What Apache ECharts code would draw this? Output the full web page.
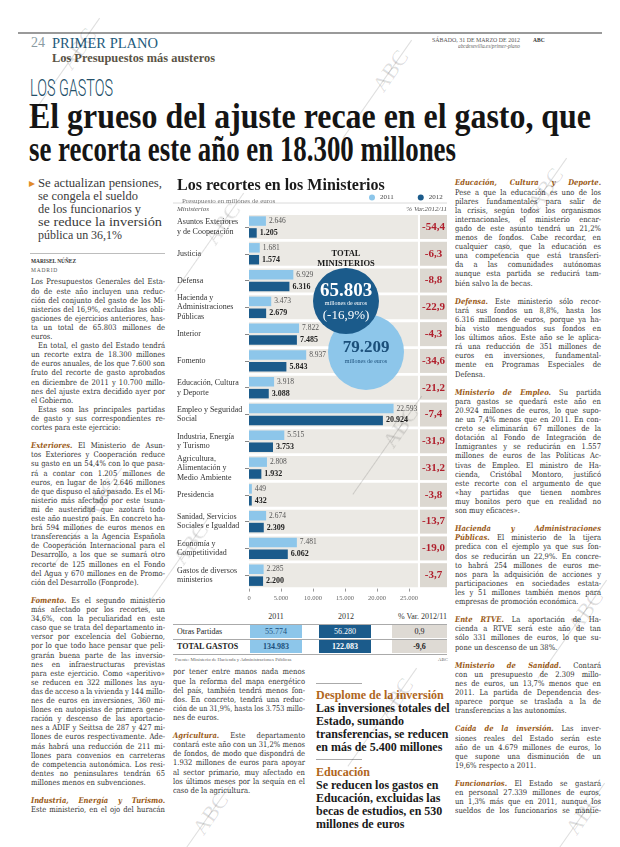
<!DOCTYPE html>
<html><head><meta charset="utf-8">
<script src="https://cdn.jsdelivr.net/npm/echarts@6/dist/echarts.min.js"></script>
<style>
html,body{margin:0;padding:0;background:#fff;}
#page{position:relative;width:620px;height:847px;overflow:hidden;background:#fff;font-family:'Liberation Serif',serif;color:#2e2e2e;}
.a{position:absolute;white-space:nowrap;}
.ln{position:absolute;white-space:nowrap;transform-origin:0 50%;font-family:'DejaVu Serif',serif;color:#333;}
.lead{font-weight:bold;font-style:italic;color:#9a5a16;}
.rule{position:absolute;height:0;}
#chart{position:absolute;left:168px;top:172px;width:282px;height:440px;}
.wm{position:absolute;color:rgba(0,0,0,0.13);font-family:'Liberation Serif',serif;font-size:22px;transform-origin:50% 50%;pointer-events:none;}
.wm span{position:absolute;left:-60px;top:12px;width:120px;border-top:1px solid rgba(0,0,0,0.13);}
</style></head><body><div id="page">
<div id="chart"></div>
</div>
<script>
// ---------------- chart data ----------------
const categories = [
  'Asuntos Exteriores\ny de Cooperación','Justicia','Defensa',
  'Hacienda y\nAdministraciones\nPúblicas','Interior','Fomento',
  'Educación, Cultura\ny Deporte','Empleo y Seguridad\nSocial',
  'Industria, Energía\ny Turismo','Agricultura,\nAlimentación y\nMedio Ambiente',
  'Presidencia','Sanidad, Servicios\nSociales e Igualdad',
  'Economía y\nCompetitividad','Gastos de diversos\nministerios'
];
const values2011 = [2646,1681,6929,3473,7822,8937,3918,22593,5515,2808,449,2674,7481,2285];
const values2012 = [1205,1574,6316,2679,7485,5843,3088,20924,3753,1932,432,2309,6062,2200];
const pctChange = [-54.4,-6.3,-8.8,-22.9,-4.3,-34.6,-21.2,-7.4,-31.9,-31.2,-3.8,-13.7,-19.0,-3.7];
const xTickValues = [0,5000,10000,15000,20000,25000];
const totalMinisterios2012 = 65803;
const totalMinisterios2011 = 79209;
const totalMinisteriosPct = -16.9;
const tableRows = ['Otras Partidas','TOTAL GASTOS'];
const table2011 = [55774,134983];
const table2012 = [56280,122083];
const tableVar = [0.9,-9.6];

function fmt(v){ return String(v).replace(/\B(?=(\d{3})+(?!\d))/g,'.'); }
function fmtPct(v){ return v.toFixed(1).replace('.',','); }

const page = document.getElementById('page');
function el(html, css, cls){
  const d = document.createElement('div');
  d.className = cls || 'a';
  d.innerHTML = html;
  Object.assign(d.style, css);
  page.appendChild(d);
  return d;
}
function fitW(d, w){
  const nat = d.getBoundingClientRect().width;
  if (nat>0){ d.style.transformOrigin='0 50%'; d.style.transform='scaleX('+(w/nat)+')'; }
}
function rule(x1,x2,y,color,wd){
  el('',{left:x1+'px',top:y+'px',width:(x2-x1)+'px',borderTop:(wd||1)+'px solid '+(color||'#bbb')},'rule');
}
// justified text columns, one entry per printed line
function col(lines, x, y0, w, lh, fs, sx){
  let y = y0;
  for (const raw of lines){
    if (raw===''){ y += lh; continue; }
    let s = raw, last=false, indent=0;
    if (s.endsWith('|')){ last=true; s=s.slice(0,-1); }
    if (s.startsWith('>')){ indent=7; s=s.slice(1); }
    const d = el(s.replace(/\*([^*]+)\*/g,'<span class="lead">$1</span>'),
      {left:(x+indent)+'px', top:(y-lh/2)+'px', lineHeight:lh+'px', fontSize:fs+'px'}, 'ln');
    const tw = (w-indent)/sx;
    const nat = d.getBoundingClientRect().width;
    const spaces = (s.match(/ /g)||[]).length;
    let scale = sx;
    if (!last){
      const ws = spaces? (tw-nat)/spaces : 0;
      if (spaces && ws>=-0.6) d.style.wordSpacing = ws+'px';
      else scale = sx*tw/nat;
    } else if (nat>tw){
      scale = sx*tw/nat;
    }
    d.style.transform='scaleX('+scale+')';
    y += lh;
  }
}

// ---------------- header ----------------
rule(18,602,32,'#9a9a9a',2);
el('24',{left:'31px',top:'35px',fontSize:'14px',color:'#8a9ba2',lineHeight:'16px'});
fitW(el('PRIMER PLANO',{left:'52px',top:'35px',fontSize:'15px',color:'#1d5b7c',lineHeight:'16px'}),106);
fitW(el('Los Presupuestos más austeros',{left:'52px',top:'51px',fontSize:'12.5px',fontWeight:'bold',color:'#5b5446',lineHeight:'14px'}),163);
fitW(el('SÁBADO, 31 DE MARZO DE 2012',{left:'432px',top:'37px',fontSize:'5.5px',color:'#555',lineHeight:'6px'}),88);
el('ABC',{left:'533px',top:'37px',fontSize:'5.5px',color:'#333',fontWeight:'bold',lineHeight:'6px'});
fitW(el('abcdesevilla.es/primer-plano',{left:'458px',top:'43px',fontSize:'5.5px',color:'#666',fontStyle:'italic',lineHeight:'6px'}),62);
fitW(el('LOS GASTOS',{left:'30px',top:'75px',fontSize:'24px',fontFamily:'Roboto,sans-serif',fontWeight:'300',color:'#24506a',lineHeight:'26px'}),83);
fitW(el('El grueso del ajuste recae en el gasto, que',{left:'29px',top:'97px',fontSize:'35px',fontWeight:'bold',color:'#151515',lineHeight:'40px'}),562);
fitW(el('se recorta este año en 18.300 millones',{left:'29px',top:'130px',fontSize:'35px',fontWeight:'bold',color:'#151515',lineHeight:'40px'}),427);

// ---------------- left deck ----------------
el('&#9656;',{left:'29px',top:'176px',fontSize:'12px',color:'#e08a2a',lineHeight:'14px'});
const deck = ['Se actualizan pensiones,','se congela el sueldo','de los funcionarios y','se reduce la inversión','pública un 36,1%'];
const deckW = [124,100,103,124,84];
deck.forEach((t,i)=>fitW(el(t,{left:'38px',top:(176+i*13)+'px',fontSize:'13px',color:'#3a3a3a',lineHeight:'14px'}),deckW[i]));
rule(30,165,253,'#bdbdbd',1);
fitW(el('MARISEL NÚÑEZ',{left:'31px',top:'257px',fontSize:'6.5px',fontWeight:'bold',color:'#333',lineHeight:'8px'}),45);
el('MADRID',{left:'31px',top:'266px',fontSize:'5.5px',color:'#555',letterSpacing:'0.8px',lineHeight:'8px'});

// ---------------- body columns ----------------
const LH = 9.1, FS = 7.9, SX = 0.86;
col([
 'Los Presupuestos Generales del Esta-',
 'do de este año incluyen una reduc-',
 'ción del conjunto del gasto de los Mi-',
 'nisterios del 16,9%, excluidas las obli-',
 'gaciones de ejercicios anteriores, has-',
 'ta un total de 65.803 millones de',
 'euros.|',
 '>En total, el gasto del Estado tendrá',
 'un recorte extra de 18.300 millones',
 'de euros anuales, de los que 7.600 son',
 'fruto del recorte de gasto aprobados',
 'en diciembre de 2011 y 10.700 millo-',
 'nes del ajuste extra decidido ayer por',
 'el Gobierno.|',
 '>Estas son las principales partidas',
 'de gasto y sus correspondientes re-',
 'cortes para este ejercicio:|',
 '',
 '*Exteriores.* El Ministerio de Asun-',
 'tos Exteriores y Cooperación reduce',
 'su gasto en un 54,4% con lo que pasa-',
 'rá a contar con 1.205 millones de',
 'euros, en lugar de los 2.646 millones',
 'de que dispuso el año pasado. Es el Mi-',
 'nisterio más afectado por este tsuna-',
 'mi de austeridad que azotará todo',
 'este año nuestro país. En concreto ha-',
 'brá 594 millones de euros menos en',
 'transferencias a la Agencia Española',
 'de Cooperación Internacional para el',
 'Desarrollo, a los que se sumará otro',
 'recorte de 125 millones en el Fondo',
 'del Agua y 670 millones en de Promo-',
 'ción del Desarrollo (Fonprode).|',
 '',
 '*Fomento.* Es el segundo ministerio',
 'más afectado por los recortes, un',
 '34,6%, con la peculiaridad en este',
 'caso que se trata del departamento in-',
 'versor por excelencia del Gobierno,',
 'por lo que todo hace pensar que peli-',
 'grarán buena parte de las inversio-',
 'nes en infraestructuras previstas',
 'para este ejercicio. Como «aperitivo»',
 'se reducen en 322 millones las ayu-',
 'das de acceso a la vivienda y 144 millo-',
 'nes de euros en inversiones, 360 mi-',
 'llones en autopistas de primera gene-',
 'ración y descenso de las aportacio-',
 'nes a ADIF y Seittsa de 287 y 427 mi-',
 'llones de euros respectivamente. Ade-',
 'más habrá una reducción de 211 mi-',
 'llones para convenios en carreteras',
 'de competencia autonómica. Los resi-',
 'dentes no peninsulares tendrán 65',
 'millones menos en subvenciones.|',
 '',
 '*Industria, Energía y Turismo.*',
 'Este ministerio, en el ojo del huracán'
], 31, 282, 134, LH, FS, SX);

col([
 'por tener entre manos nada menos',
 'que la reforma del mapa energético',
 'del país, también tendrá menos fon-',
 'dos. En concreto, tendrá una reduc-',
 'ción de un 31,9%, hasta los 3.753 millo-',
 'nes de euros.|',
 '',
 '*Agricultura.* Este departamento',
 'contará este año con un 31,2% menos',
 'de fondos, de modo que dispondrá de',
 '1.932 millones de euros para apoyar',
 'al sector primario, muy afectado en',
 'los últimos meses por la sequía en el',
 'caso de la agricultura.|'
], 173, 672, 132, LH, FS, SX);

col([
 '*Educación, Cultura y Deporte.*',
 'Pese a que la educación es uno de los',
 'pilares fundamentales para salir de',
 'la crisis, según todos los organismos',
 'internacionales, el ministerio encar-',
 'gado de este asunto tendrá un 21,2%',
 'menos de fondos. Cabe recordar, en',
 'cualquier caso, que la educación es',
 'una competencia que está transferi-',
 'da a las comunidades autónomas',
 'aunque esta partida se reducirá tam-',
 'bién salvo la de becas.|',
 '',
 '*Defensa.* Este ministerio sólo recor-',
 'tará sus fondos un 8,8%, hasta los',
 '6.316 millones de euros, porque ya ha-',
 'bía visto menguados sus fondos en',
 'los últimos años. Este año se le aplica-',
 'rá una reducción de 351 millones de',
 'euros en inversiones, fundamental-',
 'mente en Programas Especiales de',
 'Defensa.|',
 '',
 '*Ministerio de Empleo.* Su partida',
 'para gastos se quedará este año en',
 '20.924 millones de euros, lo que supo-',
 'ne un 7,4% menos que en 2011. En con-',
 'creto se eliminarán 67 millones de la',
 'dotación al Fondo de Integración de',
 'Inmigrantes y se reducirán en 1.557',
 'millones de euros de las Políticas Ac-',
 'tivas de Empleo. El ministro de Ha-',
 'cienda, Cristóbal Montoro, justificó',
 'este recorte con el argumento de que',
 '«hay partidas que tienen nombres',
 'muy bonitos pero que en realidad no',
 'son muy eficaces».|',
 '',
 '*Hacienda y Administraciones*',
 '*Públicas.* El ministerio de la tijera',
 'predica con el ejemplo ya que sus fon-',
 'dos se reducirán un 22,9%. En concre-',
 'to habrá 254 millones de euros me-',
 'nos para la adquisición de acciones y',
 'participaciones en sociedades estata-',
 'les y 51 millones también menos para',
 'empresas de promoción económica.|',
 '',
 '*Ente RTVE.* La aportación de Ha-',
 'cienda a RTVE será este año de tan',
 'sólo 331 millones de euros, lo que su-',
 'pone un descenso de un 38%.|',
 '',
 '*Ministerio de Sanidad.* Contará',
 'con un presupuesto de 2.309 millo-',
 'nes de euros, un 13,7% menos que en',
 '2011. La partida de Dependencia des-',
 'aparece porque se traslada a la de',
 'transferencias a las autonomías.|',
 '',
 '*Caída de la inversión.* Las inver-',
 'siones reales del Estado serán este',
 'año de un 4.679 millones de euros, lo',
 'que supone una disminución de un',
 '19,6% respecto a 2011.|',
 '',
 '*Funcionarios.* El Estado se gastará',
 'en personal 27.339 millones de euros,',
 'un 1,3% más que en 2011, aunque los',
 'sueldos de los funcionarios se mantie-'
], 455, 183, 146, LH, FS, SX);

// ---------------- side boxes ----------------
rule(316,362,683,'#aaa',1.5);
el('Desplome de la inversión',{left:'316px',top:'688px',fontSize:'12px',fontWeight:'bold',color:'#b0661c',lineHeight:'14px'});
['Las inversiones totales del','Estado, sumando','transferencias, se reducen','en más de 5.400 millones'].forEach((t,i)=>
  el(t,{left:'316px',top:(701+i*13)+'px',fontSize:'12px',fontWeight:'bold',color:'#1a1a1a',lineHeight:'14px'}));
rule(316,362,759,'#aaa',1.5);
el('Educación',{left:'316px',top:'765px',fontSize:'12px',fontWeight:'bold',color:'#b0661c',lineHeight:'14px'});
['Se reducen los gastos en','Educación, excluidas las','becas de estudios, en 530','millones de euros'].forEach((t,i)=>
  el(t,{left:'316px',top:(778+i*13)+'px',fontSize:'12px',fontWeight:'bold',color:'#1a1a1a',lineHeight:'14px'}));

// ---------------- table under chart ----------------
el('2011',{left:'262px',top:'612px',fontSize:'8px',color:'#333',lineHeight:'10px',width:'28px',textAlign:'center'});
el('2012',{left:'332px',top:'612px',fontSize:'8px',color:'#333',lineHeight:'10px',width:'28px',textAlign:'center'});
el('% Var. 2012/11',{left:'390px',top:'612px',fontSize:'8px',color:'#333',lineHeight:'10px',width:'57px',textAlign:'right'});
rule(173,447,624,'#aaa',1);
tableRows.forEach((name,i)=>{
  const y = 625 + i*15;
  el('',{left:'250px',top:y+'px',width:'52px',height:'13px',background:'#8dc6ea'});
  el('',{left:'319px',top:y+'px',width:'52px',height:'13px',background:'#1b5b8b'});
  el('',{left:'392px',top:y+'px',width:'55px',height:'13px',background:'#dedad4'});
  const bold = i===1 ? 'bold' : 'normal';
  el(name,{left:'177px',top:y+'px',fontSize:'8px',lineHeight:'13px',color:'#222',fontWeight:bold});
  el(fmt(table2011[i]),{left:'250px',top:y+'px',width:'52px',textAlign:'center',fontSize:'8px',lineHeight:'13px',color:'#1b4f7a',fontWeight:bold});
  el(fmt(table2012[i]),{left:'319px',top:y+'px',width:'52px',textAlign:'center',fontSize:'8px',lineHeight:'13px',color:'#fff',fontWeight:bold});
  el(fmtPct(tableVar[i]),{left:'392px',top:y+'px',width:'55px',textAlign:'center',fontSize:'8px',lineHeight:'13px',color:'#222',fontWeight:bold});
  rule(173,447,y+13.5,'#aaa',1);
});
el('Fuente: Ministerio de Hacienda y Administraciones Públicas',{left:'175px',top:'657px',fontSize:'4.8px',color:'#666',lineHeight:'6px'});
el('ABC',{left:'438px',top:'657px',fontSize:'4.8px',color:'#666',lineHeight:'6px'});

// ---------------- chart ----------------
const SERIF = 'Liberation Serif';
const BAND = 26400, GAP = 320, COLW = 4220;
const chart = echarts.init(document.getElementById('chart'), null, {renderer:'canvas'});
chart.setOption({
  animation:false,
  textStyle:{fontFamily:SERIF},
  title:[
    {text:'Los recortes en los Ministerios', left:4, top:1, textStyle:{fontSize:16, fontWeight:'bold', color:'#1a1a1a', fontFamily:SERIF}},
    {text:'Presupuesto en millones de euros', left:9, top:21, textStyle:{fontSize:7, fontWeight:'normal', color:'#777', fontFamily:SERIF}}
  ],
  legend:{data:['2011','2012'], left:201, top:22, padding:0, orient:'horizontal', icon:'circle', itemWidth:6, itemHeight:6, itemGap:24,
    textStyle:{fontSize:7, color:'#444', fontFamily:SERIF}},
  grid:{left:81, top:41.6, width:198, height:375},
  xAxis:{type:'value', min:0, max:30940,
    axisLine:{show:false}, splitLine:{show:false},
    axisTick:{show:true, length:3, lineStyle:{color:'#999'}, customValues:xTickValues},
    axisLabel:{customValues:xTickValues, formatter:v=>fmt(v), fontSize:6.5, color:'#666', margin:6, fontFamily:SERIF}},
  yAxis:[
    {type:'category', data:categories, inverse:true,
     axisLine:{show:false},
     axisTick:{show:true, length:4, alignWithLabel:true, lineStyle:{color:'#888'}},
     axisLabel:{align:'left', margin:72, fontSize:8, color:'#333', lineHeight:9.5, fontFamily:SERIF}},
    {type:'category', data:categories, inverse:true, show:false}
  ],
  series:[
    {name:'2011', type:'bar', yAxisIndex:0, data:values2011, barWidth:9.5, barGap:'25%', z:3,
     itemStyle:{color:'#8dc6ea'},
     label:{show:true, position:'right', distance:3, fontSize:7.5, color:'#555', fontFamily:SERIF, formatter:p=>fmt(p.value)}},
    {name:'2012', type:'bar', yAxisIndex:0, data:values2012, barWidth:9.5, barGap:'25%', z:3,
     itemStyle:{color:'#1b5b8b'},
     label:{show:true, position:'right', distance:3, fontSize:8, fontWeight:'bold', color:'#1e1e1e', fontFamily:SERIF, formatter:p=>fmt(p.value)}},
    {type:'bar', yAxisIndex:1, stack:'bg', data:categories.map(()=>BAND), barWidth:24, silent:true, z:1,
     itemStyle:{color:'#ebe9e4'}},
    {type:'bar', yAxisIndex:1, stack:'bg', data:categories.map(()=>GAP), barWidth:24, silent:true, z:1,
     itemStyle:{color:'rgba(0,0,0,0)'}},
    {type:'bar', yAxisIndex:1, stack:'bg', data:categories.map(()=>COLW), barWidth:24, silent:true, z:1,
     itemStyle:{color:'#dcd8d1'},
     label:{show:true, position:'inside', formatter:p=>fmtPct(pctChange[p.dataIndex]), color:'#b01e2c', fontWeight:'bold', fontSize:11, fontFamily:SERIF}}
  ],
  graphic:[
    {type:'text', left:9, top:34, style:{text:'Ministerios', fontSize:7, fontStyle:'italic', fill:'#555', fontFamily:SERIF}},
    {type:'text', right:3, top:34, style:{text:'% Var.2012/11', fontSize:7, fontStyle:'italic', fill:'#555', fontFamily:SERIF}},
    {type:'line', shape:{x1:5, y1:31, x2:279, y2:31}, style:{stroke:'#d0d0d0', lineWidth:0.8}},
    {type:'text', x:178, y:82, style:{text:'TOTAL', fontSize:8.5, fontWeight:'bold', fill:'#1a1a1a', align:'center', verticalAlign:'middle', fontFamily:SERIF}, z:10},
    {type:'text', x:178, y:92, style:{text:'MINISTERIOS', fontSize:8.5, fontWeight:'bold', fill:'#1a1a1a', align:'center', verticalAlign:'middle', fontFamily:SERIF}, z:10},
    {type:'circle', shape:{cx:198, cy:180, r:38}, style:{fill:'#8dc6ea'}, z:10},
    {type:'text', x:198, y:176, style:{text:fmt(totalMinisterios2011), fontSize:17, fontWeight:'bold', fill:'#1b4f7a', align:'center', verticalAlign:'middle', fontFamily:SERIF}, z:11},
    {type:'text', x:198, y:189, style:{text:'millones de euros', fontSize:6, fill:'#1b4f7a', align:'center', verticalAlign:'middle', fontFamily:SERIF}, z:11},
    {type:'circle', shape:{cx:178, cy:129, r:33}, style:{fill:'#1b5b8b'}, z:12},
    {type:'text', x:178, y:119, style:{text:fmt(totalMinisterios2012), fontSize:19, fontWeight:'bold', fill:'#fff', align:'center', verticalAlign:'middle', fontFamily:SERIF}, z:13},
    {type:'text', x:178, y:131, style:{text:'millones de euros', fontSize:6, fill:'#fff', align:'center', verticalAlign:'middle', fontFamily:SERIF}, z:13},
    {type:'text', x:178, y:144, style:{text:'('+fmtPct(totalMinisteriosPct)+'%)', fontSize:13, fill:'#fff', align:'center', verticalAlign:'middle', fontFamily:SERIF}, z:13}
  ]
});

// ---------------- watermarks ----------------
[[78,50],[390,72],[222,225],[545,190],[400,428],[100,500],[190,545],[585,612],[395,700],[210,815],[583,815]].forEach(([x,y])=>{
  el('ABC<span></span>',{left:(x-22)+'px',top:(y-14)+'px',transform:'rotate(-55deg)'},'wm');
});
</script>
</body></html>
